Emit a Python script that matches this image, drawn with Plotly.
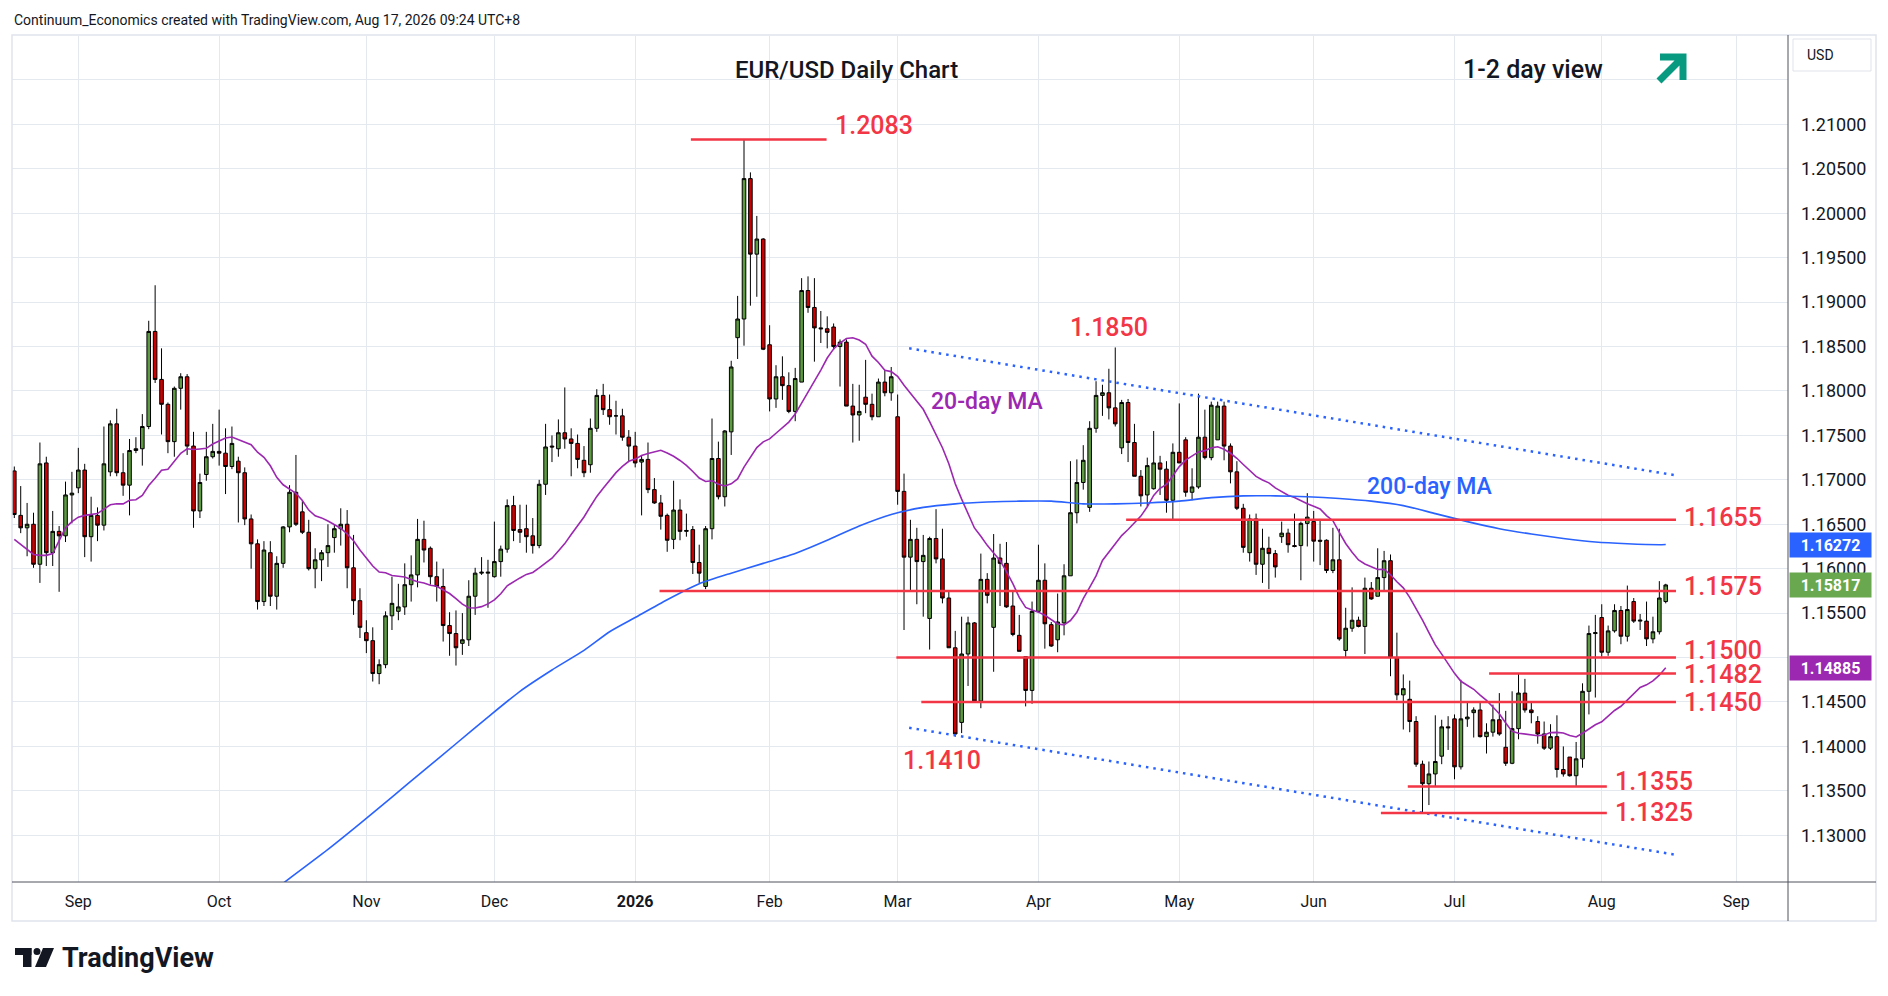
import pandas as pd
import plotly.graph_objects as go

# ---- trading calendar (FX daily bars: weekdays, no Christmas / New Year bar)
holidays = ["2025-12-25", "2026-01-01"]
trading_days = pd.bdate_range("2025-08-18", "2026-08-17")
trading_days = trading_days[~trading_days.isin(pd.to_datetime(holidays))]

# ---- EUR/USD daily OHLC
opens = [
    1.1710, 1.1660, 1.1646, 1.1650, 1.1605, 1.1719, 1.1618, 1.1642, 1.1637, 1.1683,
    1.1691, 1.1711, 1.1636, 1.1660, 1.1649, 1.1709, 1.1763, 1.1708, 1.1694, 1.1733,
    1.1735, 1.1760, 1.1867, 1.1813, 1.1785, 1.1743, 1.1803, 1.1816, 1.1738, 1.1665,
    1.1706, 1.1726, 1.1732, 1.1730, 1.1715, 1.1721, 1.1708, 1.1656, 1.1628, 1.1563,
    1.1618, 1.1569, 1.1606, 1.1647, 1.1686, 1.1664, 1.1641, 1.1600, 1.1610, 1.1618,
    1.1635, 1.1645, 1.1650, 1.1601, 1.1564, 1.1528, 1.1519, 1.1482, 1.1492, 1.1547,
    1.1552, 1.1557, 1.1582, 1.1593, 1.1633, 1.1623, 1.1591, 1.1580, 1.1536, 1.1527,
    1.1516, 1.1520, 1.1569, 1.1595, 1.1595, 1.1591, 1.1608, 1.1622, 1.1671, 1.1644,
    1.1645, 1.1637, 1.1626, 1.1695, 1.1738, 1.1735, 1.1753, 1.1746, 1.1741, 1.1722,
    1.1717, 1.1758, 1.1795, 1.1779, 1.1772, 1.1772, 1.1748, 1.1738, 1.1720, 1.1723,
    1.1689, 1.1674, 1.1660, 1.1633, 1.1666, 1.1642, 1.1644, 1.1607, 1.1580, 1.1645,
    1.1724, 1.1681, 1.1754, 1.1860, 1.1881, 1.2039, 1.1954, 1.1971, 1.1852, 1.1791,
    1.1816, 1.1806, 1.1777, 1.1810, 1.1913, 1.1894, 1.1871, 1.1870, 1.1872, 1.1850,
    1.1855, 1.1783, 1.1773, 1.1793, 1.1785, 1.1771, 1.1810, 1.1798, 1.1771, 1.1687,
    1.1613, 1.1633, 1.1608, 1.1544, 1.1634, 1.1611, 1.1567, 1.1511, 1.1427, 1.1504,
    1.1539, 1.1451, 1.1588, 1.1534, 1.1612, 1.1606, 1.1558, 1.1525, 1.1501, 1.1463,
    1.1552, 1.1587, 1.1537, 1.1520, 1.1539, 1.1592, 1.1663, 1.1697, 1.1669, 1.1758,
    1.1795, 1.1798, 1.1781, 1.1736, 1.1787, 1.1742, 1.1704, 1.1683, 1.1690, 1.1719,
    1.1712, 1.1677, 1.1731, 1.1745, 1.1686, 1.1692, 1.1748, 1.1725, 1.1745, 1.1783,
    1.1738, 1.1709, 1.1668, 1.1618, 1.1656, 1.1605, 1.1623, 1.1617, 1.1636, 1.1640,
    1.1626, 1.1626, 1.1651, 1.1653, 1.1632, 1.1632, 1.1598, 1.1610, 1.1508, 1.1533,
    1.1542, 1.1535, 1.1578, 1.1569, 1.1590, 1.1609, 1.1500, 1.1458, 1.1453, 1.1428,
    1.1380, 1.1358, 1.1369, 1.1389, 1.1422, 1.1431, 1.1377, 1.1431, 1.1438, 1.1441,
    1.1411, 1.1416, 1.1430, 1.1399, 1.1381, 1.1420, 1.1460, 1.1441, 1.1428, 1.1414,
    1.1398, 1.1411, 1.1374, 1.1388, 1.1367, 1.1386, 1.1462, 1.1527, 1.1545, 1.1506,
    1.1530, 1.1553, 1.1524, 1.1563, 1.1541, 1.1541, 1.1521, 1.1529, 1.1563,
]
highs = [
    1.1715, 1.1693, 1.1674, 1.1663, 1.1742, 1.1726, 1.1665, 1.1648, 1.1698, 1.1709,
    1.1736, 1.1718, 1.1681, 1.1669, 1.1760, 1.1767, 1.1780, 1.1730, 1.1746, 1.1748,
    1.1774, 1.1879, 1.1919, 1.1848, 1.1787, 1.1805, 1.1820, 1.1819, 1.1754, 1.1707,
    1.1754, 1.1763, 1.1779, 1.1758, 1.1760, 1.1726, 1.1714, 1.1661, 1.1633, 1.1631,
    1.1631, 1.1614, 1.1648, 1.1694, 1.1728, 1.1676, 1.1655, 1.1623, 1.1621, 1.1650,
    1.1650, 1.1668, 1.1666, 1.1638, 1.1578, 1.1542, 1.1534, 1.1498, 1.1552, 1.1591,
    1.1583, 1.1606, 1.1615, 1.1656, 1.1654, 1.1625, 1.1608, 1.1600, 1.1551, 1.1553,
    1.1550, 1.1587, 1.1601, 1.1613, 1.1610, 1.1653, 1.1626, 1.1678, 1.1682, 1.1672,
    1.1672, 1.1657, 1.1700, 1.1763, 1.1750, 1.1768, 1.1804, 1.1758, 1.1751, 1.1738,
    1.1769, 1.1802, 1.1808, 1.1796, 1.1789, 1.1780, 1.1756, 1.1754, 1.1728, 1.1742,
    1.1702, 1.1683, 1.1662, 1.1699, 1.1678, 1.1662, 1.1648, 1.1627, 1.1648, 1.1769,
    1.1743, 1.1756, 1.1834, 1.1907, 1.2083, 1.2046, 1.1997, 1.1972, 1.1874, 1.1829,
    1.1839, 1.1821, 1.1826, 1.1927, 1.1929, 1.1927, 1.1890, 1.1884, 1.1876, 1.1858,
    1.1858, 1.1808, 1.1807, 1.1835, 1.1797, 1.1814, 1.1824, 1.1827, 1.1796, 1.1707,
    1.1655, 1.1646, 1.1638, 1.1636, 1.1667, 1.1645, 1.1574, 1.1530, 1.1546, 1.1546,
    1.1540, 1.1617, 1.1595, 1.1639, 1.1628, 1.1630, 1.1574, 1.1548, 1.1501, 1.1563,
    1.1627, 1.1606, 1.1540, 1.1572, 1.1605, 1.1721, 1.1723, 1.1739, 1.1766, 1.1811,
    1.1807, 1.1825, 1.1849, 1.1790, 1.1791, 1.1763, 1.1711, 1.1725, 1.1755, 1.1727,
    1.1721, 1.1741, 1.1786, 1.1748, 1.1713, 1.1797, 1.1779, 1.1788, 1.1788, 1.1788,
    1.1741, 1.1721, 1.1673, 1.1661, 1.1662, 1.1645, 1.1636, 1.1621, 1.1653, 1.1645,
    1.1662, 1.1653, 1.1685, 1.1665, 1.1656, 1.1633, 1.1646, 1.1645, 1.1556, 1.1579,
    1.1546, 1.1590, 1.1585, 1.1623, 1.1620, 1.1616, 1.1528, 1.1481, 1.1474, 1.1434,
    1.1384, 1.1383, 1.1435, 1.1430, 1.1434, 1.1436, 1.1475, 1.1451, 1.1444, 1.1451,
    1.1426, 1.1447, 1.1460, 1.1440, 1.1462, 1.1482, 1.1476, 1.1451, 1.1434, 1.1428,
    1.1425, 1.1435, 1.1400, 1.1388, 1.1405, 1.1471, 1.1536, 1.1548, 1.1560, 1.1536,
    1.1560, 1.1558, 1.1581, 1.1567, 1.1549, 1.1563, 1.1546, 1.1586, 1.1583,
]
lows = [
    1.1657, 1.1640, 1.1614, 1.1601, 1.1584, 1.1603, 1.1603, 1.1574, 1.1630, 1.1651,
    1.1685, 1.1613, 1.1608, 1.1631, 1.1643, 1.1704, 1.1704, 1.1682, 1.1660, 1.1730,
    1.1716, 1.1757, 1.1809, 1.1751, 1.1730, 1.1726, 1.1779, 1.1728, 1.1646, 1.1657,
    1.1699, 1.1724, 1.1716, 1.1684, 1.1712, 1.1652, 1.1649, 1.1600, 1.1554, 1.1558,
    1.1558, 1.1554, 1.1601, 1.1641, 1.1648, 1.1639, 1.1598, 1.1578, 1.1586, 1.1602,
    1.1618, 1.1626, 1.1578, 1.1548, 1.1522, 1.1505, 1.1473, 1.1470, 1.1488, 1.1531,
    1.1542, 1.1548, 1.1563, 1.1579, 1.1607, 1.1582, 1.1563, 1.1518, 1.1502, 1.1491,
    1.1503, 1.1513, 1.1548, 1.1593, 1.1556, 1.1590, 1.1591, 1.1618, 1.1631, 1.1629,
    1.1618, 1.1617, 1.1623, 1.1683, 1.1720, 1.1726, 1.1735, 1.1704, 1.1713, 1.1703,
    1.1708, 1.1754, 1.1773, 1.1762, 1.1751, 1.1744, 1.1721, 1.1714, 1.1660, 1.1685,
    1.1673, 1.1644, 1.1619, 1.1622, 1.1632, 1.1636, 1.1594, 1.1584, 1.1577, 1.1633,
    1.1678, 1.1670, 1.1728, 1.1836, 1.1851, 1.1896, 1.1906, 1.1846, 1.1777, 1.1781,
    1.1790, 1.1775, 1.1766, 1.1810, 1.1888, 1.1833, 1.1854, 1.1848, 1.1846, 1.1805,
    1.1783, 1.1742, 1.1744, 1.1775, 1.1767, 1.1771, 1.1794, 1.1789, 1.1672, 1.1531,
    1.1576, 1.1560, 1.1546, 1.1509, 1.1606, 1.1561, 1.1511, 1.1411, 1.1415, 1.1468,
    1.1449, 1.1443, 1.1561, 1.1484, 1.1558, 1.1556, 1.1524, 1.1507, 1.1445, 1.1448,
    1.1550, 1.1510, 1.1512, 1.1506, 1.1525, 1.1592, 1.1651, 1.1689, 1.1664, 1.1753,
    1.1772, 1.1768, 1.1760, 1.1729, 1.1720, 1.1704, 1.1670, 1.1670, 1.1689, 1.1683,
    1.1663, 1.1655, 1.1719, 1.1681, 1.1677, 1.1690, 1.1723, 1.1722, 1.1745, 1.1722,
    1.1696, 1.1666, 1.1618, 1.1608, 1.1593, 1.1584, 1.1577, 1.1590, 1.1629, 1.1618,
    1.1624, 1.1587, 1.1625, 1.1608, 1.1604, 1.1595, 1.1595, 1.1519, 1.1500, 1.1529,
    1.1534, 1.1504, 1.1565, 1.1569, 1.1576, 1.1479, 1.1452, 1.1419, 1.1416, 1.1377,
    1.1326, 1.1334, 1.1355, 1.1380, 1.1396, 1.1363, 1.1374, 1.1422, 1.1410, 1.1410,
    1.1392, 1.1411, 1.1412, 1.1378, 1.1380, 1.1408, 1.1438, 1.1426, 1.1403, 1.1396,
    1.1396, 1.1365, 1.1366, 1.1366, 1.1355, 1.1376, 1.1436, 1.1455, 1.1501, 1.1502,
    1.1528, 1.1515, 1.1518, 1.1539, 1.1531, 1.1513, 1.1516, 1.1526, 1.1561,
]
closes = [
    1.1661, 1.1646, 1.1650, 1.1605, 1.1718, 1.1618, 1.1642, 1.1637, 1.1683, 1.1685,
    1.1711, 1.1636, 1.1660, 1.1649, 1.1718, 1.1763, 1.1708, 1.1694, 1.1733, 1.1735,
    1.1760, 1.1867, 1.1813, 1.1785, 1.1743, 1.1803, 1.1816, 1.1738, 1.1665, 1.1697,
    1.1726, 1.1732, 1.1730, 1.1715, 1.1741, 1.1708, 1.1656, 1.1628, 1.1563, 1.1621,
    1.1569, 1.1606, 1.1647, 1.1686, 1.1650, 1.1641, 1.1600, 1.1610, 1.1618, 1.1626,
    1.1645, 1.1650, 1.1601, 1.1564, 1.1534, 1.1519, 1.1482, 1.1492, 1.1547, 1.1561,
    1.1557, 1.1582, 1.1593, 1.1633, 1.1621, 1.1591, 1.1580, 1.1536, 1.1527, 1.1511,
    1.1520, 1.1569, 1.1595, 1.1596, 1.1596, 1.1608, 1.1622, 1.1671, 1.1643, 1.1641,
    1.1636, 1.1626, 1.1695, 1.1737, 1.1737, 1.1753, 1.1746, 1.1741, 1.1723, 1.1708,
    1.1758, 1.1795, 1.1779, 1.1771, 1.1772, 1.1748, 1.1738, 1.1719, 1.1723, 1.1689,
    1.1674, 1.1659, 1.1632, 1.1666, 1.1642, 1.1643, 1.1607, 1.1595, 1.1645, 1.1724,
    1.1681, 1.1755, 1.1827, 1.1881, 1.2039, 1.1954, 1.1971, 1.1847, 1.1791, 1.1816,
    1.1806, 1.1777, 1.1814, 1.1913, 1.1894, 1.1871, 1.1870, 1.1866, 1.1850, 1.1855,
    1.1783, 1.1773, 1.1777, 1.1785, 1.1771, 1.1810, 1.1798, 1.1816, 1.1687, 1.1613,
    1.1633, 1.1608, 1.1615, 1.1634, 1.1611, 1.1567, 1.1511, 1.1414, 1.1504, 1.1539,
    1.1451, 1.1588, 1.1570, 1.1612, 1.1606, 1.1557, 1.1526, 1.1507, 1.1463, 1.1552,
    1.1587, 1.1538, 1.1513, 1.1540, 1.1592, 1.1663, 1.1697, 1.1722, 1.1758, 1.1795,
    1.1798, 1.1781, 1.1763, 1.1787, 1.1742, 1.1704, 1.1682, 1.1716, 1.1719, 1.1712,
    1.1677, 1.1731, 1.1719, 1.1686, 1.1692, 1.1748, 1.1725, 1.1784, 1.1783, 1.1738,
    1.1709, 1.1668, 1.1624, 1.1656, 1.1605, 1.1623, 1.1617, 1.1602, 1.1640, 1.1627,
    1.1625, 1.1651, 1.1658, 1.1631, 1.1631, 1.1598, 1.1610, 1.1521, 1.1533, 1.1542,
    1.1535, 1.1578, 1.1566, 1.1590, 1.1609, 1.1500, 1.1458, 1.1465, 1.1428, 1.1380,
    1.1358, 1.1369, 1.1383, 1.1422, 1.1421, 1.1377, 1.1431, 1.1433, 1.1441, 1.1411,
    1.1416, 1.1430, 1.1414, 1.1381, 1.1420, 1.1460, 1.1441, 1.1438, 1.1414, 1.1398,
    1.1411, 1.1374, 1.1369, 1.1367, 1.1386, 1.1462, 1.1527, 1.1528, 1.1506, 1.1530,
    1.1553, 1.1524, 1.1554, 1.1541, 1.1542, 1.1521, 1.1529, 1.1567, 1.15817,
]

# first 19 points of the 20-day MA (they depend on bars left of the window)
ma20_head = [
    1.1633, 1.1627, 1.1621, 1.1616, 1.1615, 1.1615, 1.1617, 1.1631, 1.1646, 1.1653,
    1.1658, 1.1660, 1.1661, 1.1662, 1.1667, 1.1672, 1.1673, 1.1673, 1.1677,
]

# 200-day MA
ma200_dates = [
    "2025-10-15", "2025-10-24", "2025-10-31", "2025-11-07", "2025-11-14", "2025-11-21",
    "2025-11-28", "2025-12-05", "2025-12-12", "2025-12-19", "2025-12-26", "2026-01-02",
    "2026-01-09", "2026-01-16", "2026-01-23", "2026-01-30", "2026-02-06", "2026-02-13",
    "2026-02-20", "2026-02-27", "2026-03-06", "2026-03-13", "2026-03-20", "2026-03-27",
    "2026-04-03", "2026-04-10", "2026-04-17", "2026-04-24", "2026-05-01", "2026-05-08",
    "2026-05-15", "2026-05-22", "2026-05-29", "2026-06-05", "2026-06-12", "2026-06-19",
    "2026-06-26", "2026-07-03", "2026-07-10", "2026-07-17", "2026-07-24", "2026-07-31",
    "2026-08-07", "2026-08-14", "2026-08-17",
]
ma200_values = [
    1.1246, 1.1284, 1.1313, 1.1343, 1.1373, 1.1403,
    1.1433, 1.1462, 1.1486, 1.1508, 1.1529, 1.1545,
    1.1565, 1.1583, 1.1595, 1.1606, 1.1617, 1.1632,
    1.1648, 1.1661, 1.1669, 1.1673, 1.1675, 1.1676,
    1.1676, 1.1673, 1.1673, 1.1674, 1.1676, 1.1680,
    1.1682, 1.1682, 1.1681, 1.1679, 1.1676, 1.1671,
    1.1662, 1.1653, 1.1645, 1.1639, 1.1634, 1.1630,
    1.1628, 1.1627, 1.16272,
]

# support / resistance levels drawn on the chart
level_values = [1.2083, 1.1655, 1.1575, 1.1500, 1.1482, 1.1450, 1.1355, 1.1325]
level_starts = [
    "2026-01-14 16:48", "2026-04-20 16:48", "2026-01-07 19:12", "2026-02-27 19:12",
    "2026-07-08 09:36", "2026-03-05 16:48", "2026-06-19 16:48", "2026-06-15 12:00",
]
level_ends = [
    "2026-02-12 21:36", "2026-08-18 14:24", "2026-08-18 14:24", "2026-08-18 14:24",
    "2026-08-18 14:24", "2026-08-18 14:24", "2026-08-03 19:12", "2026-08-03 19:12",
]
level_label_x = [
    "2026-02-13 20:00", "2026-08-19 14:00", "2026-08-19 14:00", "2026-08-19 14:00",
    "2026-08-19 14:00", "2026-08-19 14:00", "2026-08-04 18:00", "2026-08-04 18:00",
]
level_label_shift = [14, 2, 4, 7, -1, -1, 5, 1]

# swing points labelled without a line
swing_values = [1.1850, 1.1410]
swing_x = ["2026-04-16 00:00", "2026-03-10 21:36"]
swing_shift = [19, -23]

# falling channel (dotted)
channel_x = ["2026-03-03 19:12", "2026-08-18 14:24"]
channel_upper = [1.1848, 1.1705]
channel_lower = [1.1421, 1.1278]

# price scale: labelled ticks (1.21500 gridline carries no label, 1.15000 sits under a badge)
price_ticks = [1.130, 1.135, 1.140, 1.145, 1.150, 1.155, 1.160, 1.165, 1.170, 1.175,
               1.180, 1.185, 1.190, 1.195, 1.200, 1.205, 1.210, 1.215]
price_tick_labels = ["1.13000", "1.13500", "1.14000", "1.14500", "", "1.15500",
                     "1.16000", "1.16500", "1.17000", "1.17500", "1.18000", "1.18500",
                     "1.19000", "1.19500", "1.20000", "1.20500", "1.21000", ""]

# price-scale badges: 200-day MA, last close, 20-day MA
badge_values = [1.16272, 1.15817, 1.14885]

month_labels = ["Sep", "Oct", "Nov", "Dec", "<b>2026</b>", "Feb", "Mar", "Apr",
                "May", "Jun", "Jul", "Aug", "Sep"]

GREEN = "#5d9b40"
RED = "#cc0000"
LEVEL_RED = "#f23645"
BLUE = "#2962ff"
PURPLE = "#9c27b0"
TEXT = "#131722"
GRID = "#e4e9f0"
FONT = "Roboto, 'Liberation Sans', sans-serif"

# the page adds an 8px body margin, so the figure is drawn 8px smaller on each side
PAGE_PAD = 8
FIG_W, FIG_H = 1888 - 2 * PAGE_PAD, 996 - 2 * PAGE_PAD
# plot box in page pixels, used for the furniture drawn in paper space
PLOT_L, PLOT_R, PLOT_T, PLOT_B = 12, 1788, 36, 882


def px(x):
    return (x - PLOT_L) / (PLOT_R - PLOT_L)


def py(y):
    return (PLOT_B - y) / (PLOT_B - PLOT_T)


ma20 = pd.Series(closes).rolling(20).mean()
ma20.iloc[: len(ma20_head)] = ma20_head

tick_days = pd.bdate_range("2025-09-01", "2026-09-30")
tick_days = tick_days[~tick_days.isin(pd.to_datetime(holidays))]
month_firsts = tick_days.to_series().groupby(tick_days.to_period("M")).min()

fig = go.Figure()
fig.add_trace(
    go.Candlestick(
        x=trading_days,
        open=opens,
        high=highs,
        low=lows,
        close=closes,
        increasing=dict(line=dict(color="#000000", width=1), fillcolor=GREEN),
        decreasing=dict(line=dict(color="#000000", width=1), fillcolor=RED),
        whiskerwidth=0,
        hoverinfo="skip",
        showlegend=False,
    )
)
fig.add_trace(
    go.Scatter(x=trading_days, y=ma20, mode="lines",
               line=dict(color=PURPLE, width=1.6), hoverinfo="skip", showlegend=False)
)
fig.add_trace(
    go.Scatter(x=ma200_dates, y=ma200_values, mode="lines",
               line=dict(color=BLUE, width=1.6, shape="spline", smoothing=0.6),
               hoverinfo="skip", showlegend=False)
)

for y0, y1 in [channel_upper, channel_lower]:
    fig.add_shape(type="line", xref="x", yref="y", x0=channel_x[0], x1=channel_x[1],
                  y0=y0, y1=y1, line=dict(color=BLUE, width=2.5, dash="2.5px,5px"))

label_font = dict(family=FONT, size=25, color=LEVEL_RED, weight=500)
for v, x0, x1, lx, shift in zip(level_values, level_starts, level_ends,
                                level_label_x, level_label_shift):
    fig.add_shape(type="line", xref="x", yref="y", x0=x0, x1=x1, y0=v, y1=v,
                  line=dict(color=LEVEL_RED, width=2.5))
    fig.add_annotation(x=lx, y=v, xref="x", yref="y", text=f"{v:.4f}", showarrow=False,
                       xanchor="left", yanchor="middle", yshift=shift, font=label_font)

for v, lx, shift in zip(swing_values, swing_x, swing_shift):
    fig.add_annotation(x=lx, y=v, xref="x", yref="y", text=f"{v:.4f}", showarrow=False,
                       xanchor="center", yanchor="middle", yshift=shift, font=label_font)

fig.add_annotation(x="2026-03-20", y=1.1788, text="20-day MA", showarrow=False,
                   xanchor="center", yanchor="middle",
                   font=dict(family=FONT, size=23, color=PURPLE, weight=500))
fig.add_annotation(x="2026-06-25 05:00", y=1.1692, text="200-day MA", showarrow=False,
                   xanchor="center", yanchor="middle",
                   font=dict(family=FONT, size=23, color=BLUE, weight=500))

# titles
fig.add_annotation(x=px(846), y=py(70), xref="paper", yref="paper",
                   xanchor="center", yanchor="middle",
                   text="EUR/USD Daily Chart", showarrow=False,
                   font=dict(family=FONT, size=24, color=TEXT, weight=500))
fig.add_annotation(x=px(1533), y=py(70), xref="paper", yref="paper",
                   xanchor="center", yanchor="middle",
                   text="1-2 day view", showarrow=False,
                   font=dict(family=FONT, size=25, color=TEXT, weight=500))
fig.add_shape(type="path", xref="paper", yref="paper",
              path=(f"M {px(1660)} {py(57)} L {px(1683)} {py(57)} L {px(1683)} {py(80)} "
                    f"M {px(1683)} {py(57)} L {px(1659)} {py(81)}"),
              line=dict(color="#089981", width=7))

# header and footer
fig.add_annotation(x=0, y=py(20), xref="paper", yref="paper",
                   xanchor="left", yanchor="middle",
                   text="Continuum_Economics created with TradingView.com, Aug 17, 2026 09:24 UTC+8",
                   showarrow=False, font=dict(family=FONT, size=14, color=TEXT))
fig.add_annotation(x=px(60), y=py(958), xref="paper", yref="paper",
                   xanchor="left", yanchor="middle",
                   text="<b>TradingView</b>", showarrow=False,
                   font=dict(family=FONT, size=27, color=TEXT))
fig.add_shape(type="rect", xref="paper", yref="paper", x0=px(15), x1=px(31.5),
              y0=py(955), y1=py(948), fillcolor=TEXT, line_width=0)
fig.add_shape(type="rect", xref="paper", yref="paper", x0=px(23), x1=px(31.5),
              y0=py(967), y1=py(948), fillcolor=TEXT, line_width=0)
fig.add_shape(type="circle", xref="paper", yref="paper", x0=px(33.5), x1=px(40.5),
              y0=py(955), y1=py(948), fillcolor=TEXT, line_width=0)
fig.add_shape(type="path", xref="paper", yref="paper",
              path=(f"M {px(43)} {py(948)} L {px(54)} {py(948)} L {px(46)} {py(967)} "
                    f"L {px(35)} {py(967)} Z"),
              fillcolor=TEXT, line_width=0)

# chart frame, axis lines, currency box
fig.add_shape(type="rect", xref="paper", yref="paper", x0=0, x1=px(1876),
              y0=py(921), y1=py(35), line=dict(color="#e0e3eb", width=1.5))
fig.add_shape(type="line", xref="paper", yref="paper", x0=1, x1=1, y0=py(921), y1=py(35),
              line=dict(color="#50535e", width=1))
fig.add_shape(type="line", xref="paper", yref="paper", x0=0, x1=px(1876), y0=0, y1=0,
              line=dict(color="#50535e", width=1))
fig.add_shape(type="rect", xref="paper", yref="paper", x0=px(1793), x1=px(1871),
              y0=py(71), y1=py(39), line=dict(color="#e0e3eb", width=1))
fig.add_annotation(x=px(1805), y=py(55), xref="paper", yref="paper",
                   xanchor="left", yanchor="middle",
                   text="USD", showarrow=False, font=dict(family=FONT, size=14, color=TEXT))

for v, c in zip(badge_values, [BLUE, "#6aa84f", PURPLE]):
    fig.add_annotation(x=px(1789), y=v, xref="paper", yref="y", xanchor="left",
                       yanchor="middle", text=f"<b>{v:.5f}</b>", showarrow=False,
                       bgcolor=c, width=77, height=20, borderpad=2, align="center",
                       font=dict(family=FONT, size=16, color="#ffffff"))

fig.update_layout(
    width=FIG_W,
    height=FIG_H,
    margin=dict(l=PLOT_L - PAGE_PAD, r=FIG_W - (PLOT_R - PAGE_PAD),
                t=PLOT_T - PAGE_PAD, b=FIG_H - (PLOT_B - PAGE_PAD)),
    paper_bgcolor="#ffffff",
    plot_bgcolor="#ffffff",
    font=dict(family=FONT, color=TEXT),
    showlegend=False,
    hovermode=False,
    boxgap=0.2,
    boxgroupgap=0.3,
    xaxis=dict(
        type="date",
        range=["2025-08-15 15:21:36", "2026-09-11 02:24"],
        rangebreaks=[dict(bounds=["sat", "mon"]), dict(values=holidays)],
        rangeslider=dict(visible=False),
        tickmode="array",
        tickvals=list(month_firsts),
        ticktext=month_labels,
        showgrid=True,
        gridcolor=GRID,
        gridwidth=1,
        zeroline=False,
        showline=False,
        ticks="",
        ticklabelstandoff=8,
        tickfont=dict(family=FONT, size=16, color=TEXT),
        automargin=False,
    ),
    yaxis=dict(
        side="right",
        range=[1.12474, 1.21995],
        tickmode="array",
        tickvals=price_ticks,
        ticktext=price_tick_labels,
        showgrid=True,
        gridcolor=GRID,
        gridwidth=1,
        zeroline=False,
        showline=False,
        ticks="",
        ticklabelstandoff=12,
        tickfont=dict(family=FONT, size=18, color=TEXT),
        automargin=False,
    ),
)

fig.write_html("out.html")
